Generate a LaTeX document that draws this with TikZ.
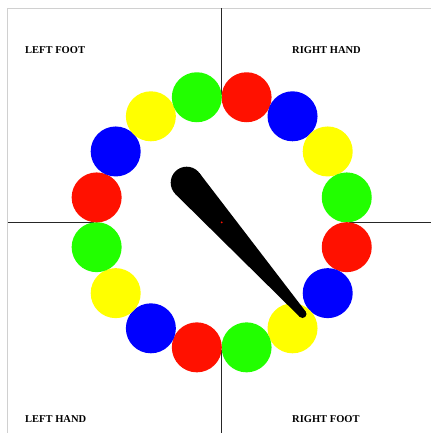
\documentclass[tikz,border=0pt]{standalone}
\usepackage{fontspec}
\setmainfont{Liberation Serif}
\usetikzlibrary{calc}
\definecolor{twred}{HTML}{FF1100}
\definecolor{twblue}{HTML}{0000FF}
\definecolor{twyellow}{HTML}{FFFF00}
\definecolor{twgreen}{HTML}{22FF00}
\definecolor{frame}{HTML}{D0D0D0}
\tikzset{
  spot/.style={circle,minimum size=50pt,inner sep=0pt,draw=none},
  lbl/.style={anchor=west,inner sep=0pt,font=\fontsize{10.5}{12}\selectfont\bfseries},
  axis/.style={line width=1.5pt,black!85},
}
\begin{document}
\begin{tikzpicture}[x=1pt,y=-1pt]
\useasboundingbox (0,0) rectangle (431,433);
\fill[white] (0,0) rectangle (431,433);
% frame
\coordinate (tl) at (7.5,8.5);
\coordinate (tr) at (431,8.5);
\coordinate (bl) at (7.5,433);
\draw[frame,line width=1.5pt] (bl) -- (tl) -- (tr);
% axes
\coordinate (c) at (221.7,222.3);
\coordinate (hl) at (7.5,222.3);
\coordinate (hr) at (431,222.3);
\coordinate (vt) at (221.7,8.5);
\coordinate (vb) at (221.7,433);
\draw[axis] (hl) -- (hr);
\draw[axis] (vt) -- (vb);
% board disc hides the axes inside the ring
\fill[white] (c) circle (127.5);
% spots
\foreach \i/\col in {0/twred,1/twblue,2/twyellow,3/twgreen,4/twred,5/twblue,6/twyellow,7/twgreen,8/twred,9/twblue,10/twyellow,11/twgreen,12/twred,13/twblue,14/twyellow,15/twgreen}{
  \pgfmathsetmacro{\ang}{11.25+22.5*\i}
  \node[spot,fill=\col] (s\i) at ($(c)+({127.5*sin(\ang)},{-127.5*cos(\ang)})$) {};
}
% spinner
\coordinate (A) at (186.7,182.7);
\coordinate (B) at (302.5,314);
\fill[black] (A) circle (16);
\fill[black] (B) circle (4);
\fill[black] (175.4,194.1) -- (199.4,173.0) -- (305.7,311.6) -- (299.7,316.8) -- cycle;
\fill[twred] (c) circle (1);
% labels
\node[lbl] (lf) at (25,50) {LEFT FOOT};
\node[lbl] (rh) at (292,50) {RIGHT HAND};
\node[lbl] (lh) at (25,419) {LEFT HAND};
\node[lbl] (rf) at (292,419) {RIGHT FOOT};
\end{tikzpicture}
\end{document}
